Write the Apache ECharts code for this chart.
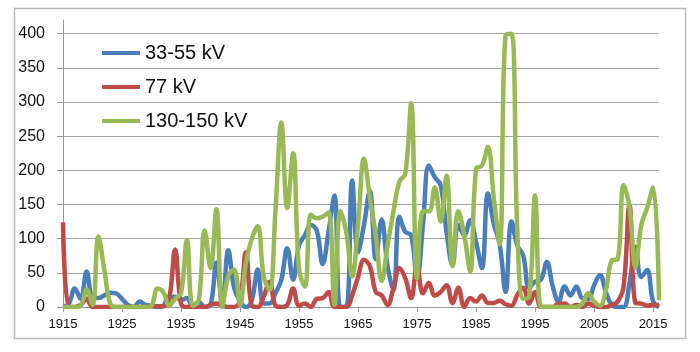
<!DOCTYPE html>
<html>
<head>
<meta charset="utf-8">
<script src="https://cdn.jsdelivr.net/npm/echarts@6/dist/echarts.min.js"></script>
<style>
  html, body { margin: 0; padding: 0; background: #fff; }
  #newCharts { width: 700px; height: 352px; }
</style>
</head>
<body>
<div id="newCharts"></div>
<script>
// 年份（横轴）
const years = [
  1915, 1916, 1917, 1918, 1919, 1920, 1921, 1922, 1923, 1924,
  1925, 1926, 1927, 1928, 1929, 1930, 1931, 1932, 1933, 1934,
  1935, 1936, 1937, 1938, 1939, 1940, 1941, 1942, 1943, 1944,
  1945, 1946, 1947, 1948, 1949, 1950, 1951, 1952, 1953, 1954,
  1955, 1956, 1957, 1958, 1959, 1960, 1961, 1962, 1963, 1964,
  1965, 1966, 1967, 1968, 1969, 1970, 1971, 1972, 1973, 1974,
  1975, 1976, 1977, 1978, 1979, 1980, 1981, 1982, 1983, 1984,
  1985, 1986, 1987, 1988, 1989, 1990, 1991, 1992, 1993, 1994,
  1995, 1996, 1997, 1998, 1999, 2000, 2001, 2002, 2003, 2004,
  2005, 2006, 2007, 2008, 2009, 2010, 2011, 2012, 2013, 2014,
  2015, 2016
];

// 33-55 kV
const kv33_55 = [
  0, 5, 27, 12, 52, 14, 13, 17, 21, 20,
  12, 3, 0, 8, 3, 2, 0, 2, 15, 15,
  10, 13, 0, 8, 0, 3, 65, 5, 83, 28,
  8, 0, 10, 55, 5, 5, 20, 40, 86, 40,
  90, 105, 120, 112, 63, 110, 163, 0, 0, 185,
  80, 120, 170, 70, 128, 60, 25, 132, 110, 105,
  42, 120, 207, 190, 178, 110, 61, 120, 105, 127,
  95, 57, 166, 122, 92, 22, 125, 90, 75, 28,
  37, 40, 66, 30, 8, 30, 17, 30, 13, 12,
  32, 47, 22, 3, 0, 0, 35, 88, 44, 54,
  8, 0
];

// 77 kV
const kv77 = [
  124, 0, 0, 3, 12, 0, 0, 0, 0, 0,
  0, 0, 0, 0, 0, 1, 1, 1, 12, 84,
  5, 0, 0, 0, 0, 3, 5, 2, 0, 0,
  10, 80, 2, 0, 15, 37, 2, 0, 3, 27,
  2, 5, 0, 12, 13, 22, 0, 0, 0, 17,
  44, 69, 60, 22, 17, 3, 28, 57, 42, 13,
  60, 20, 35, 17, 22, 32, 6, 28, 0, 13,
  8, 17, 6, 6, 9, 4, 2, 18, 28, 5,
  22, 0, 0, 0, 5, 5, 0, 3, 0, 5,
  2, 0, 0, 3, 8, 30, 149, 6, 5, 2,
  3, 3
];

// 130-150 kV
const kv130_150 = [
  0, 0, 0, 2, 26, 3, 103, 55, 5, 0,
  0, 0, 0, 0, 0, 2, 27, 22, 2, 12,
  20, 98, 2, 10, 112, 57, 143, 0, 45, 55,
  3, 65, 100, 118, 45, 25, 140, 270, 145, 225,
  55, 30, 135, 130, 132, 138, 3, 140, 110, 45,
  120, 217, 160, 105, 38, 90, 140, 183, 195, 298,
  42, 140, 140, 175, 125, 192, 60, 140, 105, 52,
  202, 207, 234, 160, 92, 398, 400, 110, 12, 15,
  163, 0, 0, 0, 0, 0, 0, 0, 5, 20,
  8, 2, 25, 68, 70, 178, 146, 58, 120, 145,
  175, 10
];

const seriesNames = ['33-55 kV', '77 kV', '130-150 kV'];
const seriesColors = ['#4a7ebb', '#be4b48', '#98b954'];

const myChart = echarts.init(document.getElementById('newCharts'));

function lineSeries(name, data, color) {
  return {
    name: name,
    type: 'line',
    data: data,
    smooth: 0.4,
    showSymbol: false,
    symbol: 'none',
    lineStyle: { width: 4.5, color: color },
    itemStyle: { color: color }
  };
}

const option = {
  animation: false,
  backgroundColor: '#fff',
  textStyle: { fontFamily: '"Liberation Sans", Arial, sans-serif' },
  graphic: [{
    // 外框
    type: 'rect',
    shape: { x: 14.5, y: 8.5, width: 671, height: 330 },
    style: { fill: 'none', stroke: '#b8b8b8', lineWidth: 1.5 },
    silent: true
  }],
  legend: {
    orient: 'vertical',
    left: 97,
    top: 38,
    icon: 'rect',
    itemWidth: 38,
    itemHeight: 4,
    itemGap: 14,
    data: seriesNames,
    textStyle: { fontSize: 20, color: '#111', lineHeight: 20 }
  },
  grid: { left: 63, right: 41, top: 20, bottom: 45, containLabel: false },
  xAxis: {
    type: 'category',
    data: years,
    boundaryGap: false,
    axisLine: { lineStyle: { color: '#999', width: 1 } },
    axisTick: { show: true, interval: 9, length: 5, lineStyle: { color: '#999' } },
    axisLabel: { interval: 9, margin: 11, fontSize: 13, color: '#111' },
    splitLine: { show: false }
  },
  yAxis: {
    type: 'value',
    min: 0,
    max: 420,
    interval: 50,
    axisLine: { show: true, lineStyle: { color: '#999', width: 1 } },
    axisTick: { show: true, length: 6, lineStyle: { color: '#999' } },
    axisLabel: { margin: 18, fontSize: 16, color: '#111', showMaxLabel: false },
    splitLine: { show: true, showMaxLine: false, lineStyle: { color: '#a4a4a4', width: 1.2 } }
  },
  series: [
    lineSeries(seriesNames[0], kv33_55, seriesColors[0]),
    lineSeries(seriesNames[1], kv77, seriesColors[1]),
    lineSeries(seriesNames[2], kv130_150, seriesColors[2])
  ]
};

myChart.setOption(option);
</script>
</body>
</html>
